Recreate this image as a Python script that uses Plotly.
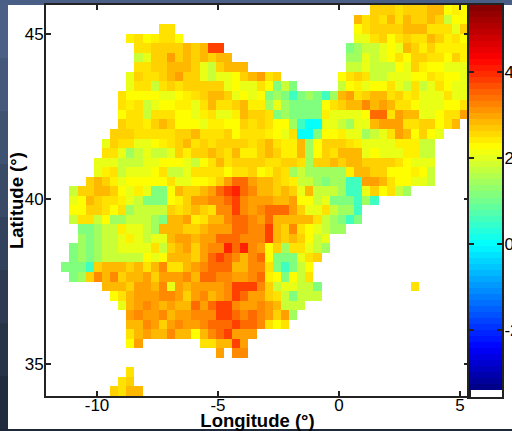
import numpy as np
import plotly.graph_objects as go

W, H = 512, 431

# Colour codes -> value on the colour bar
LEVELS = {"a": 0.05, "b": 0.56, "c": 1.13, "d": 1.41, "e": 1.77, "f": 2.05, "g": 2.25,
          "h": 2.37, "i": 2.48, "j": 2.62, "k": 2.82, "l": 3.02, "m": 3.20, "n": 3.45,
          "o": 3.79, "p": 4.04}

# Columns 0..25, rows from north to south; "." = no data
WEST_ROWS = [
    "", "",
    "." * 14 + "ii",
    "." * 10 + "highiig",
    "." * 11 + "iijjjjkjkoo",
    "." * 11 + "efjjljkjkjkk",
    "." * 11 + "iijjkkkjfejkkk",
    "." * 10 + "fjiijkljjfeffgjk",
    "." * 10 + "fiieijijjjjjfgff",
    "." * 9 + "iggggffghijkkjfgf",
    "." * 9 + "ihiefgghhfikiijkh",
    "." * 9 + "giieiiiggfhiffhkj",
    "." * 9 + "jiihjkjgggfhhggji",
    "." * 8 + "jjjiiiiijjkiiijgii",
    "." * 7 + "fjiiffghijkijijjjji",
    "." * 7 + "iifdefeefjhjjkjikhh",
    "." * 6 + "fffeeeffgggfegikijjj",
    "." * 6 + "fhiefffgieefiiiigiij",
    "." * 5 + "jkjhfgggggiffgghjlnnl",
    "." * 3 + "ejjkkjgfhfccgkjjklnopnm",
    "." * 3 + "fgkjiihfecccghjllmmnoml",
    "." * 3 + "ggjjigideeeejijkjimmoml",
    "." * 3 + "eiiegddeeedckklhikkmnnm",
    "." * 4 + "ccdeehffedkkkjjklllnnm",
    "." * 4 + "dcdeefhfeffkllkllnnnmm",
    "." * 3 + "cdcdeeffffiejkljlmmpnpm",
    "." * 3 + "cdcdeeeeegfgkkkjlnonmkm",
    "." * 2 + "cccbjkkkjkikmiiklmnnnkkm",
    "." * 3 + "cdjmkmjkkljlllmknnmmllm",
    "." * 7 + "kkkjllkmflkllllmooo",
    "." * 8 + "giklllmmljlmklmonl",
    "." * 9 + "fklmlklkknlnoomll",
    "." * 10 + "lmllmkllmmmoonmn",
    "." * 10 + "kkmljlmllmnnnonn",
    "." * 10 + "iklkkmkkgkmnolll",
    "." * 10 + "gl.......iikkol",
    "." * 21 + "l.mm",
    "",
    "." * 10 + "i",
    "." * 9 + "ij",
    "." * 8 + "jikk",
]

# Columns 26..51
EAST_ROWS = [
    "." * 14 + "jjjijjjkkghg",
    "." * 12 + "kijikikjjkjegg",
    "." * 12 + "gijjjjkkkiiifj",
    "." * 12 + "ffijgijiikjhig",
    "." * 11 + "cdeefgfkjhjhhhh",
    "." * 11 + "ddfefgigjjiigjh",
    "." * 11 + "eefeeegfjhggfff",
    "lij.......gijieefffggihggf",
    "igcec.....eghfggifeiefigff",
    "gcdcbcdcbdklijkkijhifffiff",
    "hdfdccccgijkkmklkiigfffggi",
    "jicdcccchffffgnnilkkffgiil",
    "jiggdbaaffedffkllliijjgik",
    "ihgfiaacgghffdefilkgjgf",
    "jkihhkdgjjjihffffhhhee",
    "jkjhhkdgjikkkfgfffhhee",
    "jiijjidjjkjkkjjjjigfff",
    "ghjidedddddhkkjjggghge",
    "kkjiheedcddbbllkiggffe",
    "kkjkjfkeeedbbfjgied",
    "llkklggefcccbdb",
    "mnnnljffieddb",
    "lnkkkkkiedcbc",
    "mokjmigfedd",
    "mokjkjgef",
    "lgjdiifed",
    "ngcccfij",
    "micbceg",
    "nhgcgei",
    "mjeffeec...........i",
    "ljieceee",
    "mlkeee",
    "mljld",
    "migi",
    "", "", "", "", "", "", "",
]

X_TICKS = [-10, -5, 0, 5]
Y_TICKS = [35, 40, 45]
BAR_TICKS = [-2, 0, 2, 4]
COLOR_MIN, COLOR_MAX = -3.4, 5.56
N_BANDS = 64

JET = [[0.0, "rgb(0,0,128)"], [0.11, "rgb(0,0,255)"], [0.38, "rgb(0,255,255)"],
       [0.63, "rgb(255,255,0)"], [0.86, "rgb(255,0,0)"], [1.0, "rgb(128,0,0)"]]


def px_x(p):
    return p / W


def px_y(p):
    return 1 - p / H


z = []
for w, e in zip(WEST_ROWS, EAST_ROWS):
    codes = w.ljust(26, ".") + e.ljust(26, ".")
    z.append([LEVELS.get(c) for c in codes])

# Pixel calibration: -10 at x=97, 24.2 px per degree; 45 at y=34, 33 px per degree
x_at = lambda p: -10 + (p - 97) / 24.2
y_at = lambda p: 45 - (p - 34) / 33.0

cell_w = 8.13 / 24.2
cell_h = 9.53 / 33.0
x0 = x_at(45.0) + cell_w / 2
y0 = y_at(5.0) - cell_h / 2

fig = go.Figure()
fig.add_trace(go.Heatmap(
    z=z, x0=x0, dx=cell_w, y0=y0, dy=-cell_h,
    zmin=COLOR_MIN, zmax=COLOR_MAX, colorscale=JET, showscale=False,
    hoverongaps=False, xaxis="x", yaxis="y",
))

band_edges = np.linspace(COLOR_MIN, COLOR_MAX, N_BANDS + 1)
band_mid = (band_edges[:-1] + band_edges[1:]) / 2
fig.add_trace(go.Heatmap(
    z=[[v] for v in band_mid], x=[0], y=band_mid,
    zmin=COLOR_MIN, zmax=COLOR_MAX, colorscale=JET, showscale=False,
    xaxis="x2", yaxis="y2",
))

FONT = "Liberation Sans"
LINE = "#222222"
axis_common = dict(showline=True, linecolor=LINE, linewidth=2, mirror="allticks",
                   ticks="inside", ticklen=5, tickwidth=1.5, tickcolor=LINE,
                   showgrid=False, zeroline=False, automargin=False,
                   tickfont=dict(family=FONT, size=17, color="black"))
title_font = dict(family=FONT, size=18.5, color="black", weight="bold")

shapes = [
    dict(type="rect", xref="paper", yref="paper", layer="below", line_width=0,
         x0=0, x1=1, y0=px_y(5), y1=1, fillcolor="#4a5f85"),
    dict(type="rect", xref="paper", yref="paper", layer="below", line_width=0,
         x0=0, x1=1, y0=0, y1=px_y(429), fillcolor="#1c2738"),
]
STRIP_COLORS = ["#4a6084", "#45597c", "#3f5272", "#394a67", "#33425c", "#2d3a51", "#273347", "#212c3e"]
for i, col in enumerate(STRIP_COLORS):
    shapes.append(dict(type="rect", xref="paper", yref="paper", layer="below", line_width=0,
                       x0=0, x1=px_x(8), y0=px_y(5 + (i + 1) * 424 / 8), y1=px_y(5 + i * 424 / 8),
                       fillcolor=col))

fig.update_layout(
    width=W, height=H, margin=dict(l=0, r=0, t=0, b=0, pad=0, autoexpand=False),
    paper_bgcolor="white", plot_bgcolor="white", showlegend=False, shapes=shapes,
    font=dict(family=FONT, color="black"),
    annotations=[dict(text="Latitude (\u00b0)", font=title_font, textangle=-90, showarrow=False,
                      xref="paper", yref="paper", x=px_x(16), y=px_y(201),
                      xanchor="center", yanchor="middle")],
    xaxis=dict(domain=[px_x(46), px_x(469)], range=[x_at(46), x_at(469)],
               tickmode="array", tickvals=X_TICKS, ticktext=["-10", "-5", "0", "5"],
               ticklabelstandoff=-7,
               title=dict(text="Longitude (\u00b0)", font=title_font, standoff=6),
               **axis_common),
    yaxis=dict(domain=[px_y(396), px_y(5)], range=[y_at(396), y_at(5)],
               tickmode="array", tickvals=Y_TICKS, ticklabelstandoff=-3,
               **axis_common),
    xaxis2=dict(domain=[px_x(469), px_x(502)], range=[-0.5, 0.5], showticklabels=False,
                showline=True, linecolor=LINE, linewidth=2, mirror=True, ticks="",
                showgrid=False, zeroline=False, anchor="y2"),
    yaxis2=dict(domain=[px_y(397), px_y(5)], range=[COLOR_MIN - 7 / 43.0, COLOR_MAX], side="right",
                anchor="x2", tickmode="array", tickvals=BAR_TICKS, ticklabelstandoff=-3,
                ticktext=["-2", "0", "2", "4"], **axis_common),
)
fig.write_html("out.html", config={"displayModeBar": False},
               post_script="document.body.style.margin='0';document.body.style.overflow='hidden';")
